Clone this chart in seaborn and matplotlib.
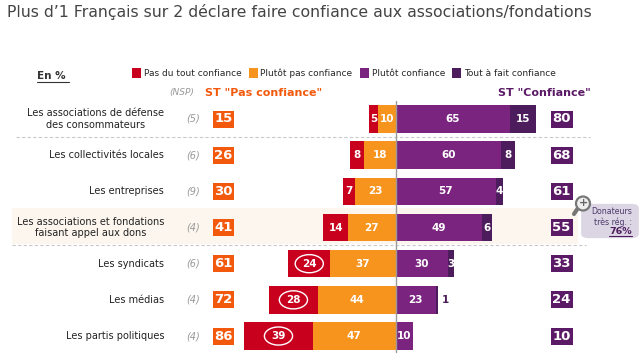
import numpy as np
import pandas as pd
import matplotlib
matplotlib.use("Agg")
import matplotlib.pyplot as plt
from matplotlib.patches import Rectangle, Ellipse, FancyBboxPatch
import seaborn as sns

categories = ["Les associations de défense\ndes consommateurs", "Les collectivités locales",
              "Les entreprises", "Les associations et fondations\nfaisant appel aux dons",
              "Les syndicats", "Les médias", "Les partis politiques"]
nsp = [5, 6, 9, 4, 6, 4, 4]
pas_du_tout = [5, 8, 7, 14, 24, 28, 39]
plutot_pas = [10, 18, 23, 27, 37, 44, 47]
plutot = [65, 60, 57, 49, 30, 23, 10]
tout_a_fait = [15, 8, 4, 6, 3, 1, 0]
st_pas = [15, 26, 30, 41, 61, 72, 86]
st_conf = [80, 68, 61, 55, 33, 24, 10]

RED = "#c8001e"
ORANGE = "#f7941e"
PURPLE = "#7a2480"
DARK = "#4d1c5c"
BOX_OR = "#f2590d"
BOX_PU = "#5b1a66"

sns.set_style("white")
plt.rcParams['font.family'] = ['DejaVu Sans']

fig = plt.figure(figsize=(6.4, 3.6), dpi=100)
ax = fig.add_axes([0, 0, 1, 1])


def px(x, y):
    return x / 640, 1 - y / 360


df = pd.DataFrame({"cat": categories, "red": pas_du_tout, "orange": plutot_pas,
                   "purple": plutot, "dark": tout_a_fait})
red_left = -(df["orange"] + df["red"]).to_numpy()
orange_left = -df["orange"].to_numpy()
dark_left = df["purple"].to_numpy()

bar_kws = dict(y="cat", saturation=1, width=0.76, orient="h", ax=ax, linewidth=0)
sns.barplot(df, x="red", left=red_left, color=RED, label="Pas du tout confiance", **bar_kws)
sns.barplot(df, x="orange", left=orange_left, color=ORANGE, label="Plutôt pas confiance", **bar_kws)
sns.barplot(df, x="purple", color=PURPLE, label="Plutôt confiance", **bar_kws)
sns.barplot(df, x="dark", left=dark_left, color=DARK, label="Tout à fait confiance", **bar_kws)

# 1.76 px per point, zero line at x=395.5, rows 36.17 px apart
ax.set_xlim(-395.5 / 1.76, (640 - 395.5) / 1.76)
ax.set_ylim((360 - 119) / 36.17, -119 / 36.17)
ax.axis("off")

T = ax.transAxes

# highlighted row and separators
ax.add_patch(Rectangle(px(12, 244), 566 / 640, 36 / 360, transform=T, color="#fdf6ef", zorder=0, lw=0))
for y, x0, x1 in [(136.5, 16, 590), (244.5, 12, 586)]:
    ax.plot([x0 / 640, x1 / 640], [px(0, y)[1]] * 2, transform=T, color="#c9c9c9", lw=0.8, ls=(0, (3, 2)), zorder=1)
ax.plot([395.5 / 640] * 2, [px(0, 101)[1], px(0, 352)[1]], transform=T, color="#9a9a9a", lw=1, zorder=5)

# bar labels
for i in range(len(categories)):
    for val, left in [(pas_du_tout[i], red_left[i]), (plutot_pas[i], orange_left[i]),
                      (plutot[i], 0), (tout_a_fait[i], dark_left[i])]:
        if val == 0:
            continue
        if val == 1:
            ax.text(left + val + 2.5, i, str(val), color=DARK, fontsize=7.5, fontweight="bold", ha="left", va="center")
        else:
            ax.text(left + val / 2, i, str(val), color="white", fontsize=7.5, fontweight="bold", ha="center",
                    va="center", zorder=6)
    if pas_du_tout[i] >= 24:
        cx = red_left[i] + pas_du_tout[i] / 2
        ax.add_patch(Ellipse((cx, i), 16, 0.5, fc="none", ec="white", lw=1, zorder=6))

    # row label, NSP and totals
    yp = 119 + i * 36.17
    ax.text(*px(164, yp), categories[i], transform=T, fontsize=7, color="#222222", ha="right", va="center",
            multialignment="center", linespacing=1.2)
    ax.text(*px(193, yp), f"({nsp[i]})", transform=T, fontsize=7, color="#999999", style="italic", ha="center",
            va="center")
    ax.add_patch(Rectangle(px(212.5, yp + 8.5), 21.5 / 640, 17 / 360, transform=T, color=BOX_OR, lw=0))
    ax.text(*px(223.5, yp), str(st_pas[i]), transform=T, fontsize=9.5, fontweight="bold", color="white",
            ha="center", va="center")
    ax.add_patch(Rectangle(px(551, yp + 8.5), 21.5 / 640, 17 / 360, transform=T, color=BOX_PU, lw=0))
    ax.text(*px(561.5, yp), str(st_conf[i]), transform=T, fontsize=9.5, fontweight="bold", color="white",
            ha="center", va="center")

# headers
ax.text(*px(7, 12), "Plus d’1 Français sur 2 déclare faire confiance aux associations/fondations", transform=T,
        fontsize=11.35, color="#444444", ha="left", va="center")
ax.text(*px(37, 76), "En %", transform=T, fontsize=7.5, fontweight="bold", color="#333333", ha="left", va="center")
ax.plot([37 / 640, 69 / 640], [px(0, 82)[1]] * 2, transform=T, color="#333333", lw=0.8)
ax.text(*px(181.5, 93), "(NSP)", transform=T, fontsize=6.5, color="#999999", style="italic", ha="center", va="center")
ax.text(*px(205, 93), 'ST "Pas confiance"', transform=T, fontsize=8, fontweight="bold", color=BOX_OR, ha="left",
        va="center")
ax.text(*px(498, 93), 'ST "Confiance"', transform=T, fontsize=8, fontweight="bold", color=BOX_PU, ha="left",
        va="center")

# legend
ax.legend(loc="center left", bbox_to_anchor=px(132, 73), bbox_transform=T, ncol=4, frameon=False, fontsize=6.5,
          handlelength=1.0, handleheight=1.25, handletextpad=0.3, columnspacing=0.8, borderpad=0, borderaxespad=0)

# tooltip
ax.add_patch(FancyBboxPatch(px(585, 236), 50 / 640, 30 / 360, transform=T,
                            boxstyle="round,pad=0.006,rounding_size=0.012",
                            fc="#dcd6e4", ec="none", zorder=7))
ax.text(*px(632, 212), "Donateurs", transform=T, fontsize=5.7, color="#4d3a6c", ha="right", va="center", zorder=8)
ax.text(*px(632, 222), "très rég. :", transform=T, fontsize=5.7, color="#4d3a6c", ha="right", va="center", zorder=8)
ax.text(*px(632, 231), "76%", transform=T, fontsize=6.8, fontweight="bold", color="#4d1c5c", ha="right", va="center",
        zorder=8)
ax.plot([609 / 640, 632 / 640], [px(0, 235.5)[1]] * 2, transform=T, color="#4d1c5c", lw=0.8, zorder=8)

# magnifier icon on the tooltip
ax.plot([578 / 640, 574 / 640], [px(0, 208)[1], px(0, 214)[1]], transform=T, color="#777777", lw=3, zorder=9,
        solid_capstyle="round")
ax.add_patch(Ellipse(px(583, 203.5), 14 / 640, 14 / 360, transform=T, fc="#eeeeee", ec="#777777", lw=1.6, zorder=9))
ax.text(*px(583, 203), "+", transform=T, fontsize=8, fontweight="bold", color="#666666", ha="center", va="center",
        zorder=10)

fig.savefig("out.png", dpi=100)
